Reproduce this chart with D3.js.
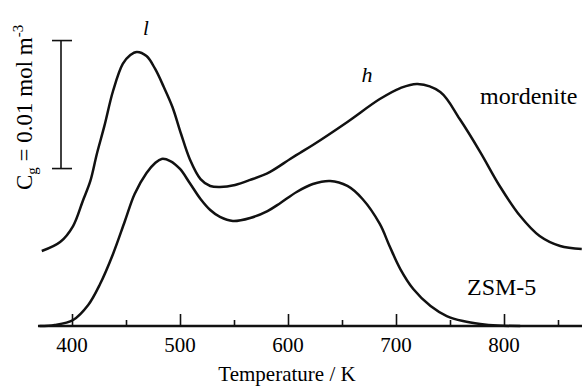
<!DOCTYPE html>
<html>
<head>
<meta charset="utf-8">
<script src="https://cdn.jsdelivr.net/npm/d3@7"></script>
<style>
  body { margin: 0; background: #fff; }
  svg text { font-family: "Times New Roman", "Liberation Serif", Tinos, "DejaVu Serif", serif; }
</style>
</head>
<body>
<div id="chart"></div>
<script>
// temperature (K) and gas-phase concentration, in 0.001 mol m^-3
// mordenite curve is drawn shifted up, as in the original figure
const mordeniteT = [372, 389, 401, 410, 417, 423, 430, 438, 447, 454, 460, 469, 477, 485, 493, 501, 509, 519, 528, 537, 551, 565, 583, 602, 611, 623, 655, 685, 704, 720, 741, 759, 778, 796, 815, 833, 852, 872];
const mordeniteC = [5.86, 6.56, 7.81, 9.77, 11.33, 13.44, 15.63, 18.36, 20.47, 21.17, 21.41, 21.09, 20.08, 18.67, 17.11, 15.0, 13.05, 11.48, 10.94, 10.86, 11.02, 11.41, 12.03, 13.05, 13.52, 14.14, 15.94, 17.73, 18.59, 18.91, 18.28, 16.17, 13.59, 10.94, 8.59, 7.03, 6.25, 6.02];

const zsmT = [370, 384, 401, 415, 426, 438, 449, 458, 469, 477, 483, 491, 500, 509, 519, 528, 537, 549, 565, 581, 593, 608, 623, 639, 655, 669, 685, 694, 704, 716, 732, 747, 762, 778, 794, 815];
const zsmC = [0, 0.08, 0.47, 1.64, 3.28, 5.63, 8.2, 10.31, 11.95, 12.73, 13.05, 12.89, 12.27, 11.17, 9.92, 9.06, 8.52, 8.2, 8.44, 8.98, 9.61, 10.47, 11.09, 11.33, 10.94, 9.92, 7.97, 6.25, 4.45, 2.89, 1.56, 0.78, 0.39, 0.16, 0.04, 0];

const majorTicks = [400, 500, 600, 700, 800];
const minorTicks = [450, 550, 650, 750, 850];

const W = 582, H = 386;
const svg = d3.select('#chart').append('svg')
  .attr('width', W)
  .attr('height', H)
  .style('display', 'block');

const x = d3.scaleLinear().domain([400, 800]).range([72, 504]);
const y = d3.scaleLinear().domain([0, 25]).range([326, 6]);

// baseline axis
svg.append('line')
  .attr('x1', x(368.5)).attr('x2', x(875))
  .attr('y1', y(0)).attr('y2', y(0))
  .attr('stroke', '#111').attr('stroke-width', 2.4);

const xAxis = svg.append('g')
  .attr('transform', `translate(0,${y(0)})`)
  .call(d3.axisTop(x).tickValues(majorTicks).tickSize(12).tickFormat(''));
xAxis.select('.domain').remove();
xAxis.selectAll('line').attr('stroke', '#111').attr('stroke-width', 1.6);

const xMinor = svg.append('g')
  .attr('transform', `translate(0,${y(0)})`)
  .call(d3.axisTop(x).tickValues(minorTicks).tickSize(6).tickFormat(''));
xMinor.select('.domain').remove();
xMinor.selectAll('line').attr('stroke', '#111').attr('stroke-width', 1.6);

svg.append('g').selectAll('text')
  .data(majorTicks)
  .enter().append('text')
  .attr('x', d => x(d))
  .attr('y', 352)
  .attr('text-anchor', 'middle')
  .attr('font-size', 21)
  .text(d => d);

svg.append('text')
  .attr('x', 287)
  .attr('y', 381)
  .attr('text-anchor', 'middle')
  .attr('font-size', 21)
  .text('Temperature / K');

// curves
const line = d3.line()
  .x(d => x(d[0]))
  .y(d => y(d[1]))
  .curve(d3.curveCatmullRom.alpha(0.5));

svg.append('path')
  .datum(d3.zip(mordeniteT, mordeniteC))
  .attr('fill', 'none')
  .attr('stroke', '#111')
  .attr('stroke-width', 2.5)
  .attr('d', line);

svg.append('path')
  .datum(d3.zip(zsmT, zsmC))
  .attr('fill', 'none')
  .attr('stroke', '#111')
  .attr('stroke-width', 2.5)
  .attr('d', line);

// scale bar: 0.01 mol m^-3 = 10 units
const barBase = 12.3;
const bx = 61;
const bar = svg.append('g').attr('stroke', '#111').attr('stroke-width', 1.6);
bar.append('line').attr('x1', bx).attr('x2', bx).attr('y1', y(barBase)).attr('y2', y(barBase + 10));
bar.append('line').attr('x1', bx - 9).attr('x2', bx + 11).attr('y1', y(barBase)).attr('y2', y(barBase));
bar.append('line').attr('x1', bx - 9).attr('x2', bx + 11).attr('y1', y(barBase + 10)).attr('y2', y(barBase + 10));

const ylab = svg.append('text')
  .attr('transform', 'translate(32,190) rotate(-90)')
  .attr('font-size', 23);
ylab.append('tspan').text('C');
ylab.append('tspan').attr('font-size', 15).attr('dy', 5).text('g');
ylab.append('tspan').attr('dy', -5).text(' = 0.01 mol m');
ylab.append('tspan').attr('font-size', 15).attr('dy', -9).text('-3');

// labels
svg.append('text').attr('x', 146).attr('y', 35).attr('font-size', 21)
  .attr('font-style', 'italic').attr('text-anchor', 'middle').text('l');
svg.append('text').attr('x', 367).attr('y', 82).attr('font-size', 22)
  .attr('font-style', 'italic').attr('text-anchor', 'middle').text('h');
svg.append('text').attr('x', 480).attr('y', 104).attr('font-size', 24).text('mordenite');
svg.append('text').attr('x', 467).attr('y', 295).attr('font-size', 24).text('ZSM-5');
</script>
</body>
</html>
